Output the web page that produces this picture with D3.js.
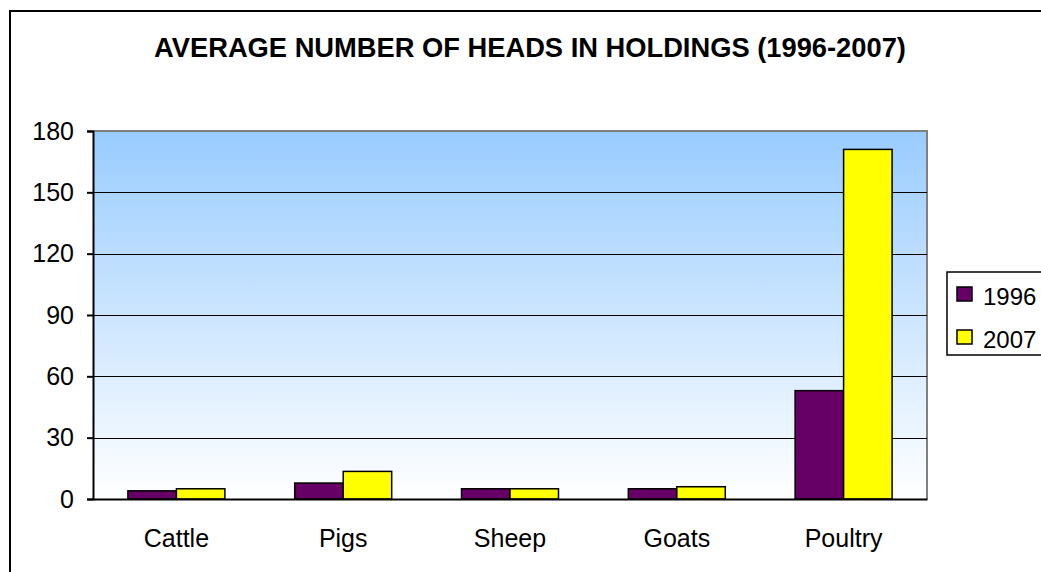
<!DOCTYPE html>
<html>
<head>
<meta charset="utf-8">
<script src="https://cdn.jsdelivr.net/npm/d3@7"></script>
<style>
  html, body { margin: 0; padding: 0; background: #fff; overflow: hidden; }
  svg { display: block; font-family: "Liberation Sans", Arial, sans-serif; }
</style>
</head>
<body>
<svg id="chart" width="1041" height="572"></svg>
<script>
const categories = ["Cattle", "Pigs", "Sheep", "Goats", "Poultry"];
const seriesNames = ["1996", "2007"];
const values1996 = [4, 7.8, 5, 5, 53];
const values2007 = [5, 13.5, 5, 6, 171];
const yTicks = [0, 30, 60, 90, 120, 150, 180];
const seriesColors = ["#660066", "#FFFF00"];

const width = 1041, height = 572;
const margin = { top: 131, right: 114, bottom: 73, left: 93 };
const innerW = width - margin.left - margin.right;
const innerH = height - margin.top - margin.bottom;

const svg = d3.select("#chart");

// outer chart frame (runs past the right/bottom edge)
svg.append("rect")
  .attr("x", 10).attr("y", 11)
  .attr("width", 1200).attr("height", 800)
  .attr("fill", "#fff")
  .attr("stroke", "#000")
  .attr("stroke-width", 2);

const defs = svg.append("defs");
const grad = defs.append("linearGradient")
  .attr("id", "bg").attr("x1", 0).attr("y1", 0).attr("x2", 0).attr("y2", 1);
grad.append("stop").attr("offset", "0%").attr("stop-color", "#99CCFF");
grad.append("stop").attr("offset", "100%").attr("stop-color", "#FFFFFF");

svg.append("text")
  .attr("x", 530).attr("y", 57)
  .attr("text-anchor", "middle")
  .attr("font-size", 27.3)
  .attr("font-weight", "bold")
  .text("AVERAGE NUMBER OF HEADS IN HOLDINGS (1996-2007)");

const g = svg.append("g").attr("transform", `translate(${margin.left},${margin.top})`);

const x0 = d3.scaleBand().domain(categories).range([0, innerW]).paddingInner(0).paddingOuter(0);
const x1 = d3.scaleBand().domain(seriesNames).range([0, x0.bandwidth()]).paddingInner(0).paddingOuter(0.72);
const y = d3.scaleLinear().domain([0, 180]).range([innerH, 0]);

g.append("rect")
  .attr("width", innerW).attr("height", innerH)
  .attr("fill", "url(#bg)");

// plot border top/right (gray)
g.append("path")
  .attr("d", `M0,0H${innerW}V${innerH}`)
  .attr("fill", "none")
  .attr("stroke", "#808080")
  .attr("stroke-width", 2);

// gridlines
g.append("g")
  .selectAll("line")
  .data(yTicks.filter(d => d > 0 && d < 180))
  .join("line")
  .attr("x1", 0).attr("x2", innerW)
  .attr("y1", d => Math.round(y(d)) + 0.5)
  .attr("y2", d => Math.round(y(d)) + 0.5)
  .attr("stroke", "#000")
  .attr("stroke-width", 1);

const rows = categories.map((c, i) => ({ cat: c, vals: [values1996[i], values2007[i]] }));

g.append("g")
  .selectAll("g")
  .data(rows)
  .join("g")
  .attr("transform", d => `translate(${x0(d.cat)},0)`)
  .selectAll("rect")
  .data(d => d.vals.map((v, j) => ({ s: seriesNames[j], v, j })))
  .join("rect")
  .attr("x", d => x1(d.s))
  .attr("y", d => y(d.v))
  .attr("width", x1.bandwidth())
  .attr("height", d => innerH - y(d.v))
  .attr("fill", d => seriesColors[d.j])
  .attr("stroke", "#000")
  .attr("stroke-width", 1.5);

// y axis
const gy = g.append("g")
  .call(d3.axisLeft(y).tickValues(yTicks).tickSize(6).tickPadding(13).tickFormat(d3.format("d")));
gy.select(".domain").attr("stroke", "#000").attr("stroke-width", 2);
gy.selectAll(".tick line").attr("stroke", "#000").attr("stroke-width", 2);
gy.selectAll(".tick text").attr("font-size", 25).attr("fill", "#000")
  .attr("font-family", "'Liberation Sans', Arial, sans-serif");

// x axis
const gx = g.append("g")
  .attr("transform", `translate(0,${innerH})`)
  .call(d3.axisBottom(x0).tickSize(0).tickPadding(30));
gx.select(".domain").attr("stroke", "#000").attr("stroke-width", 2);
gx.selectAll(".tick text").attr("font-size", 25).attr("fill", "#000")
  .attr("font-family", "'Liberation Sans', Arial, sans-serif");

// legend
const legend = svg.append("g").attr("transform", "translate(947,272)");
legend.append("rect")
  .attr("width", 120).attr("height", 83)
  .attr("fill", "#fff")
  .attr("stroke", "#000")
  .attr("stroke-width", 1.5);
const li = legend.selectAll("g.item")
  .data(seriesNames)
  .join("g")
  .attr("class", "item")
  .attr("transform", (d, i) => `translate(10,${15 + i * 43})`);
li.append("rect")
  .attr("width", 15).attr("height", 14)
  .attr("fill", (d, i) => seriesColors[i])
  .attr("stroke", "#000")
  .attr("stroke-width", 1.5);
li.append("text")
  .attr("x", 26).attr("y", 18)
  .attr("font-size", 24)
  .text(d => d);
</script>
</body>
</html>
